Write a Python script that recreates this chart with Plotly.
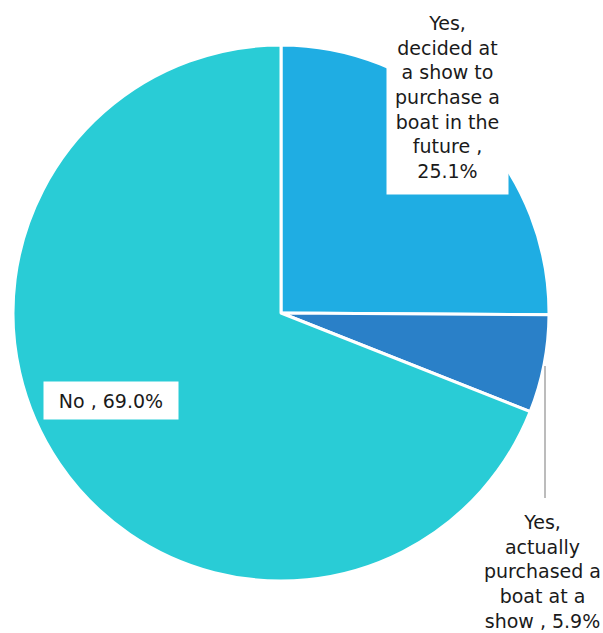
import textwrap
import plotly.graph_objects as go

categories = [
    "Yes, decided at a show to purchase a boat in the future",
    "Yes, actually purchased a boat at a show",
    "No",
]
values = [25.1, 5.9, 69.0]
colors = ["#1FADE3", "#2A80C8", "#29CCD6"]

W, H = 603, 633
cx, cy, r = 281, 313, 268


def px(x):
    return x / W


def py(y):
    return 1 - y / H


def label_text(cat, val):
    return "<br>".join(textwrap.wrap(f"{cat} , {val:.1f}%", width=11))


fig = go.Figure(
    go.Pie(
        labels=categories,
        values=values,
        sort=False,
        direction="clockwise",
        rotation=0,
        marker=dict(colors=colors, line=dict(color="white", width=3)),
        textinfo="none",
        hoverinfo="label+percent",
        showlegend=False,
        domain=dict(x=[px(cx - r), px(cx + r)], y=[py(cy + r), py(cy - r)]),
    )
)

font = dict(family="DejaVu Sans, sans-serif", size=19, color="#1a1a1a")
# (center x, center y, box width, box height, boxed)
label_pos = [(447, 97, 121, 194, True), (542, 571, None, None, False), (111, 400, 134, 37, True)]
for cat, val, (x, y, bw, bh, boxed) in zip(categories, values, label_pos):
    kw = {}
    if bw:
        kw["width"] = bw
        kw["height"] = bh
    fig.add_annotation(
        x=px(x), y=py(y), xref="paper", yref="paper",
        text=label_text(cat, val), showarrow=False,
        font=font, align="center", valign="middle",
        bgcolor="white" if boxed else "rgba(0,0,0,0)",
        borderpad=0,
        xanchor="center", yanchor="middle",
        **kw,
    )

fig.add_shape(type="line", xref="paper", yref="paper",
              x0=px(545), x1=px(545), y0=py(366), y1=py(498),
              line=dict(color="#A6A6A6", width=1.5))

fig.update_layout(
    width=W, height=H,
    margin=dict(l=0, r=0, t=0, b=0),
    paper_bgcolor="white", plot_bgcolor="white",
)
fig.write_html("out.html", config={"displayModeBar": False},
               post_script="document.body.style.margin='0';")
